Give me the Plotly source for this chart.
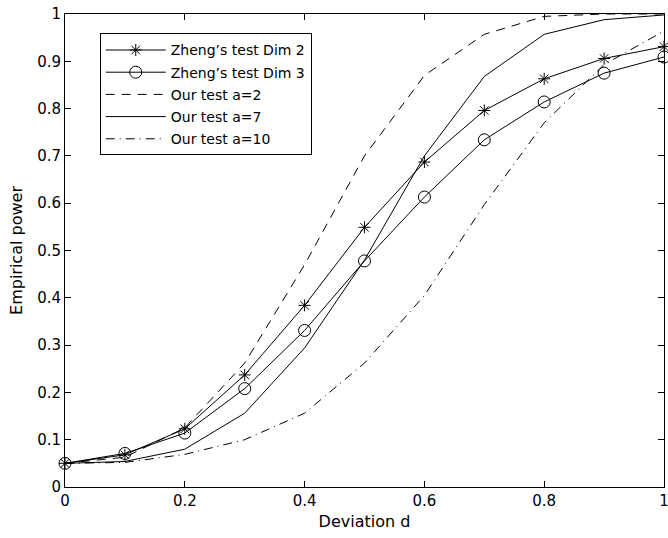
import plotly.graph_objects as go

x = [0, 0.1, 0.2, 0.3, 0.4, 0.5, 0.6, 0.7, 0.8, 0.9, 1.0]
zheng_dim2 = [0.05, 0.068, 0.123, 0.237, 0.384, 0.549, 0.687, 0.796, 0.863, 0.906, 0.931]
zheng_dim3 = [0.05, 0.071, 0.114, 0.208, 0.331, 0.478, 0.613, 0.734, 0.814, 0.875, 0.909]
our_a2 = [0.05, 0.063, 0.125, 0.262, 0.47, 0.70, 0.87, 0.957, 0.995, 1.0, 1.0]
our_a7 = [0.05, 0.054, 0.08, 0.156, 0.294, 0.48, 0.70, 0.868, 0.957, 0.988, 0.998]
our_a10 = [0.05, 0.052, 0.069, 0.10, 0.156, 0.262, 0.405, 0.597, 0.77, 0.893, 0.964]

names = ["Zheng\u2019s test Dim 2", "Zheng\u2019s test Dim 3", "Our test a=2", "Our test a=7", "Our test a=10"]

FONT = "DejaVu Sans, Verdana, sans-serif"

fig = go.Figure()
fig.add_trace(go.Scatter(x=x, y=zheng_dim2, name=names[0], mode="lines+markers", legendgroup="g1",
                         cliponaxis=False,
                         line=dict(color="black", width=1),
                         marker=dict(symbol="asterisk-open", size=10, color="black", line=dict(color="black", width=1))))
fig.add_trace(go.Scatter(x=x, y=zheng_dim3, name=names[1], mode="lines+markers", legendgroup="g2",
                         cliponaxis=False,
                         line=dict(color="black", width=1),
                         marker=dict(symbol="circle-open", size=12, color="black", line=dict(color="black", width=1))))
fig.add_trace(go.Scatter(x=x, y=our_a2, name=names[2], mode="lines", legendgroup="g3",
                         line=dict(color="black", width=1, dash="9px,7px")))
fig.add_trace(go.Scatter(x=x, y=our_a7, name=names[3], mode="lines", legendgroup="g4",
                         line=dict(color="black", width=1)))
fig.add_trace(go.Scatter(x=x, y=our_a10, name=names[4], mode="lines", legendgroup="g5",
                         line=dict(color="black", width=1, dash="9px,5px,1px,5px")))

axis_common = dict(
    showgrid=False, zeroline=False, showline=True, linecolor="black", linewidth=1,
    mirror="ticks", ticks="inside", ticklen=6, tickcolor="black",
    tickfont=dict(family=FONT, size=15, color="black"),
    automargin=False, ticklabeloverflow="allow",
)

fig.update_layout(
    width=668, height=538,
    margin=dict(l=65, r=4, t=14, b=51),
    paper_bgcolor="white", plot_bgcolor="white",
    font=dict(family=FONT, color="black"),
    xaxis=dict(range=[0, 1], tickvals=[0, 0.2, 0.4, 0.6, 0.8, 1.0],
               ticktext=["0", "0.2", "0.4", "0.6", "0.8", "1"],
               title=dict(text="Deviation d", font=dict(size=16), standoff=6), **axis_common),
    yaxis=dict(range=[0, 1], tickvals=[i / 10 for i in range(11)],
               ticktext=["0", "0.1", "0.2", "0.3", "0.4", "0.5", "0.6", "0.7", "0.8", "0.9", "1"],
               title=dict(text="Empirical power", font=dict(size=16), standoff=10), **axis_common),
    legend=dict(x=0.058, y=0.959, xanchor="left", yanchor="top",
                bordercolor="black", borderwidth=1, bgcolor="white",
                font=dict(size=14, color="black"), tracegroupgap=1, itemwidth=60),
    showlegend=True,
)

fig.write_html("out.html", config={"displayModeBar": False},
               post_script="document.body.style.margin='0';document.body.style.padding='0';")
